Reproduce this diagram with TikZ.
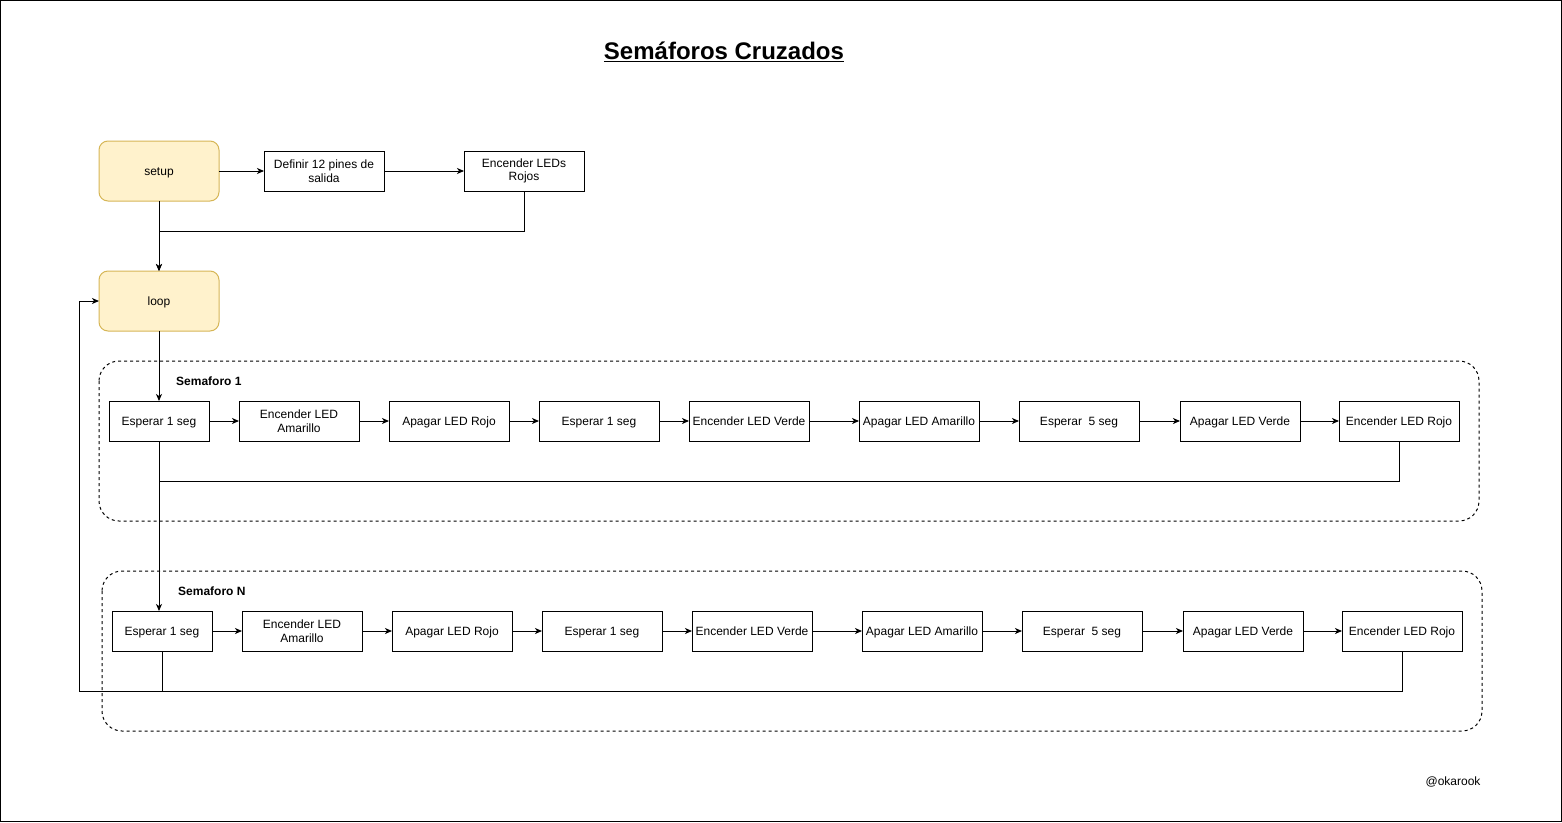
\documentclass[tikz,border=0pt]{standalone}
\usepackage{fontspec}
\setmainfont{Liberation Sans}
\usetikzlibrary{arrows.meta}
\definecolor{ylfill}{HTML}{FFF2CC}
\definecolor{yldraw}{HTML}{D6B656}
\begin{document}
\begin{tikzpicture}[x=1pt,y=-1pt,
  box/.style={draw=black, line width=1pt, minimum width=120pt, minimum height=40pt, inner sep=0pt, outer sep=0pt, align=center, font=\fontsize{12}{13.5}\selectfont},
  one/.style={text height=10.9pt, text depth=2.5pt},
  term/.style={draw=yldraw, fill=ylfill, line width=1pt, rounded corners=9pt, minimum width=120pt, minimum height=60pt, inner sep=0pt, outer sep=0pt, font=\fontsize{12}{13.5}\selectfont, one},
  group/.style={draw=black, line width=1pt, dash pattern=on 3pt off 3pt, rounded corners=20pt},
  lbl/.style={font=\bfseries\fontsize{12}{13.5}\selectfont, anchor=west, inner sep=0pt, one},
  arr/.style={line width=1pt, -{Stealth[length=7pt,width=6pt,inset=2pt]}},
  ln/.style={line width=1pt}]
\useasboundingbox (0,0) rectangle (1562,822);
\draw[line width=1pt] (0.5,0.5) rectangle (1561.5,821.5);

\node[font=\bfseries\fontsize{24}{28}\selectfont] (title) at (724,52) {\underline{Semáforos Cruzados}};

% containers
\draw[group] (99,361) rectangle (1479,521);
\draw[group] (102,571) rectangle (1482,731);
\node[lbl] (g1) at (176,381) {Semaforo 1};
\node[lbl] (g2) at (178,591) {Semaforo N};

% setup part
\node[term] (setup) at (159,171) {setup};
\node[box] (def) at (324,171) {Definir 12 pines de\\salida};
\node[box] (rojos) at (524,171) {Encender LEDs\\Rojos};
\node[term] (loop) at (159,301) {loop};

% row 1
\node[box, one, minimum width=100pt] (a1) at (159,421) {Esperar 1 seg};
\node[box] (a2) at (299,421) {Encender LED\\Amarillo};
\node[box, one] (a3) at (449,421) {Apagar LED Rojo};
\node[box, one] (a4) at (599,421) {Esperar 1 seg};
\node[box, one] (a5) at (749,421) {Encender LED Verde};
\node[box, one] (a6) at (919,421) {Apagar LED Amarillo};
\node[box, one] (a7) at (1079,421) {Esperar\ \ 5 seg};
\node[box, one] (a8) at (1240,421) {Apagar LED Verde};
\node[box, one] (a9) at (1399,421) {Encender LED Rojo};

% row 2
\node[box, one, minimum width=100pt] (b1) at (162,631) {Esperar 1 seg};
\node[box] (b2) at (302,631) {Encender LED\\Amarillo};
\node[box, one] (b3) at (452,631) {Apagar LED Rojo};
\node[box, one] (b4) at (602,631) {Esperar 1 seg};
\node[box, one] (b5) at (752,631) {Encender LED Verde};
\node[box, one] (b6) at (922,631) {Apagar LED Amarillo};
\node[box, one] (b7) at (1082,631) {Esperar\ \ 5 seg};
\node[box, one] (b8) at (1243,631) {Apagar LED Verde};
\node[box, one] (b9) at (1402,631) {Encender LED Rojo};

\node[font=\fontsize{12}{13.5}\selectfont, one] (sig) at (1453,781) {@okarook};

% connectors
\draw[arr] (setup) -- (def);
\draw[arr] (def) -- (rojos);
\draw[arr] (setup) -- (loop);
\draw[arr] (rojos.south) -- ++(0,40) -| (loop.north);
\draw[arr] (loop) -- (a1);
\foreach \i/\j in {1/2,2/3,3/4,4/5,5/6,6/7,7/8,8/9}{
  \draw[arr] (a\i) -- (a\j);
  \draw[arr] (b\i) -- (b\j);
}
\draw[ln] (a1.south) -- ++(0,40);
\draw[arr] (a9.south) -- ++(0,40) -| (a1.south |- b1.north);
\coordinate (ret) at (79,691);
\draw[ln] (b1.south) -- (b1.south |- ret);
\draw[arr] (b9.south) |- (ret) |- (loop.west);
\end{tikzpicture}
\end{document}
